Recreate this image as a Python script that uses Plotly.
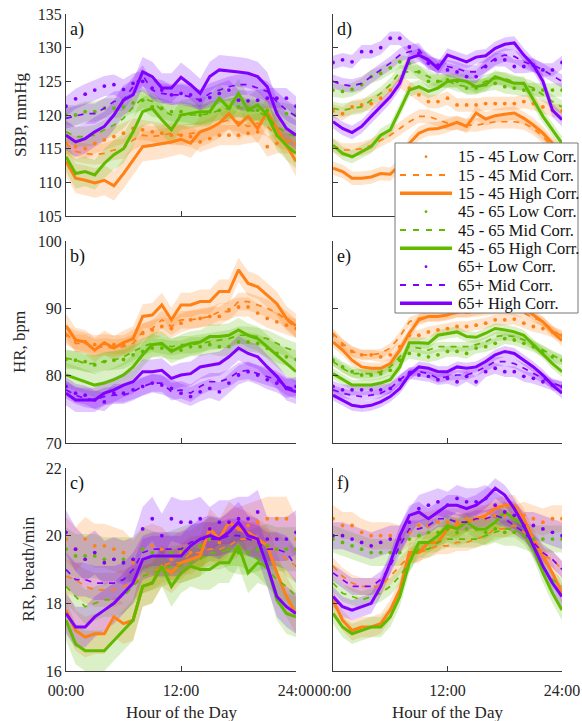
import plotly.graph_objects as go

# ---------------- data ----------------
hours = list(range(25))
age_groups = ["15 - 45", "45 - 65", "65+"]
corr_levels = ["Low", "Mid", "High"]
y_titles = ["SBP, mmHg", "HR, bpm", "RR, breath/min"]
x_title = "Hour of the Day"
x_tickvals = [0, 12, 24]
x_ticktext = ["00:00", "12:00", "24:00"]
y_ranges = [[105, 135], [70, 100], [16, 22]]
y_tickvals = [[105, 110, 115, 120, 125, 130, 135], [70, 80, 90, 100], [16, 18, 20, 22]]

# Panel a (SBP, left)
a_o_low = [115.8,115.3,115.0,115.8,116.3,116.8,117.3,118.0,117.8,117.5,117.3,117.0,117.0,116.8,116.0,116.5,117.0,117.0,117.0,117.3,117.5,115.3,115.8,115.8,115.8]
a_o_mid = [115.8,114.6,114.3,114.1,114.3,114.8,115.0,116.3,117.0,116.8,117.0,117.3,117.0,117.3,117.5,118.0,118.8,119.3,119.0,118.3,118.8,118.3,116.8,116.3,115.8]
a_o_high = [113.1,110.6,110.3,109.9,110.3,109.5,111.3,113.3,115.3,115.5,115.7,116.0,116.4,115.8,117.5,118.0,118.8,120.2,118.5,119.8,118.0,120.5,118.0,115.5,113.1]
a_g_low = [120.0,120.0,120.5,120.5,121.0,121.0,121.2,121.8,122.2,121.2,121.0,120.5,120.5,120.2,120.0,120.5,120.7,121.0,121.2,121.0,120.7,120.7,120.5,120.2,120.0]
a_g_mid = [117.5,116.8,116.8,117.0,117.8,118.5,119.5,121.2,122.5,122.0,120.7,120.0,120.0,120.0,120.0,120.2,120.7,121.0,121.2,120.7,120.5,119.8,118.3,117.3,116.8]
a_g_high = [113.8,111.3,111.6,111.1,112.8,114.1,115.0,117.5,120.5,121.0,119.3,117.8,120.0,120.2,120.5,120.5,122.5,121.0,123.2,120.7,121.5,120.0,117.0,115.5,114.3]
a_p_low = [121.3,122.4,123.1,123.7,124.3,124.5,123.8,124.7,125.0,124.0,123.7,123.0,123.2,123.0,122.2,122.6,123.2,123.7,122.2,122.1,122.2,122.5,122.5,122.5,121.3]
a_p_mid = [119.5,119.8,120.2,120.2,121.0,122.0,122.2,124.2,125.9,123.7,123.2,123.0,123.0,122.7,122.2,123.2,123.7,124.2,124.5,124.5,124.0,123.5,122.0,120.7,119.8]
a_p_high = [117.0,116.0,116.5,117.5,118.3,120.0,122.2,123.0,126.4,125.7,124.0,124.0,125.6,124.5,123.2,125.7,126.7,126.6,126.4,126.2,125.7,124.2,120.2,118.0,117.0]

# Panel d (SBP, right)
d_o_low = [120.6,120.2,121.2,121.5,121.7,122.5,123.7,125.0,124.0,123.0,122.0,122.0,122.5,121.5,121.5,121.5,121.7,121.7,121.7,121.7,122.0,121.7,121.2,120.7,120.6]
d_o_mid = [115.5,114.8,114.8,115.0,115.5,116.3,117.0,118.0,119.0,119.8,119.8,119.3,118.8,118.8,118.5,118.5,118.8,119.0,119.0,119.0,118.8,118.0,116.8,115.3,114.5]
d_o_high = [112.1,111.6,110.6,110.6,110.8,111.3,111.2,112.6,115.8,117.3,117.9,118.0,118.4,118.9,118.3,120.3,119.4,119.9,120.1,120.3,119.5,118.5,117.3,115.8,114.3]
d_g_low = [123.7,123.5,123.8,124.5,125.7,126.2,127.0,127.9,127.7,126.4,125.0,125.0,125.2,125.0,124.0,124.0,124.5,124.7,124.2,124.0,123.7,123.8,123.7,123.7,123.7]
d_g_mid = [121.0,120.7,121.0,121.2,122.2,123.2,124.5,126.4,126.4,126.4,125.7,125.0,125.0,124.5,124.2,124.2,125.0,125.4,125.4,125.0,124.5,124.0,123.0,122.0,121.2]
d_g_high = [115.5,114.3,113.8,114.6,115.3,117.0,117.8,120.7,123.7,124.2,123.5,124.0,125.0,125.2,125.0,124.2,124.5,125.7,125.2,124.7,124.7,122.2,119.8,117.8,115.8]
d_p_low = [127.8,128.2,127.9,129.4,129.4,130.0,131.4,131.4,130.1,129.2,127.7,127.4,126.7,126.4,125.7,125.7,127.2,128.2,128.2,127.2,127.2,127.4,126.7,126.7,127.8]
d_p_mid = [125.0,124.5,124.3,124.7,125.7,126.7,127.7,128.9,129.4,129.7,127.9,127.2,127.2,126.9,126.4,126.4,127.4,128.4,128.9,128.7,127.9,127.4,126.7,125.9,125.0]
d_p_high = [119.0,118.0,117.4,118.3,119.8,121.2,122.7,124.7,128.4,128.9,128.2,126.9,128.9,128.4,127.9,128.6,128.8,129.9,130.5,130.7,128.9,127.4,125.0,120.7,119.3]

# Panel b (HR, left)
b_o_low = [86.0,85.3,85.0,84.6,84.8,84.6,84.6,85.5,86.3,86.8,87.3,87.0,87.8,88.3,88.5,88.8,88.8,89.8,90.2,90.2,89.3,88.5,88.0,87.5,87.0]
b_o_mid = [86.3,84.8,84.8,84.1,84.3,84.1,84.3,84.8,86.5,87.0,88.3,87.3,88.3,88.3,88.5,88.8,89.5,89.5,91.0,91.0,90.5,90.0,89.3,88.3,87.0]
b_o_high = [87.4,85.3,85.0,83.8,84.9,84.1,84.9,85.5,88.8,89.0,90.5,88.3,90.5,90.5,91.0,91.0,92.5,92.5,95.7,93.7,93.2,92.0,90.7,88.5,87.4]
b_g_low = [82.4,82.3,82.1,81.6,82.1,82.3,82.4,83.1,83.6,84.1,84.1,83.8,83.8,84.3,84.3,84.6,84.3,84.3,85.0,85.0,84.8,84.1,83.3,82.8,82.4]
b_g_mid = [82.6,82.3,81.8,81.8,82.1,82.3,82.8,83.6,84.3,84.8,84.6,84.3,84.6,84.6,84.8,85.0,85.3,85.5,86.0,86.0,85.8,85.5,84.8,84.1,83.6]
b_g_high = [80.1,79.6,79.1,78.6,78.9,79.4,80.1,81.3,83.1,84.6,84.8,83.6,84.3,84.8,85.0,85.8,85.8,86.0,86.8,86.0,85.5,84.3,83.1,81.8,80.6]
b_p_low = [78.4,77.4,77.1,76.4,76.1,77.4,77.4,77.9,78.4,78.9,78.6,78.1,77.4,76.9,77.6,78.1,77.6,78.9,80.1,80.6,80.1,79.4,78.9,78.1,78.4]
b_p_mid = [77.9,77.1,76.6,76.4,76.9,77.1,77.1,77.6,78.4,78.9,78.9,77.6,77.9,77.4,78.4,79.1,79.1,79.6,80.6,80.8,80.3,79.9,79.4,78.4,77.9]
b_p_high = [77.4,76.4,76.4,76.4,77.4,77.9,78.6,79.1,80.6,80.6,80.8,79.6,80.1,80.3,81.3,81.6,81.8,82.8,84.1,83.3,82.8,81.3,79.9,78.1,77.6]

# Panel e (HR, right)
e_o_low = [86.0,84.6,83.6,83.1,83.1,82.8,83.1,84.3,86.0,86.0,86.5,86.8,87.0,87.3,87.3,87.5,87.8,88.3,88.3,88.4,87.8,87.3,87.0,86.5,86.0]
e_o_mid = [86.3,84.8,83.6,83.1,83.1,83.3,84.1,85.8,88.0,88.5,88.8,88.8,89.0,89.3,89.3,89.5,89.6,89.8,89.8,89.6,89.3,88.6,88.0,86.8,85.8]
e_o_high = [85.0,83.8,82.3,81.3,81.1,81.1,81.8,83.8,86.3,88.3,88.8,88.8,89.0,89.5,89.5,89.8,90.0,90.3,90.5,90.3,90.0,89.0,88.0,86.5,85.2]
e_g_low = [82.3,81.3,80.6,80.1,80.1,80.3,80.8,82.3,83.3,83.1,82.8,83.1,83.6,83.6,83.3,84.1,84.3,84.8,85.5,85.3,84.8,84.3,83.6,82.8,82.3]
e_g_mid = [82.1,81.1,80.3,80.3,80.3,80.6,81.3,82.8,84.3,84.1,83.8,84.3,84.3,84.3,84.3,84.6,85.0,85.8,86.0,85.8,85.3,84.6,83.8,83.1,82.3]
e_g_high = [80.3,79.4,78.6,78.6,78.6,78.9,79.4,81.3,84.9,84.9,84.8,86.0,86.3,86.5,85.8,85.7,86.3,87.0,86.8,86.5,86.0,84.6,83.3,81.8,80.6]
e_p_low = [78.4,77.9,77.9,77.9,77.9,77.9,78.1,79.4,80.3,80.1,79.9,79.4,79.6,79.1,79.9,79.1,80.6,81.1,80.6,80.6,79.9,79.6,79.1,78.6,78.4]
e_p_mid = [77.9,77.4,77.1,76.9,77.1,77.4,78.1,79.4,80.6,80.6,80.3,79.6,79.9,80.1,80.1,80.6,81.3,82.1,82.1,81.8,81.1,80.3,79.6,78.9,78.4]
e_p_high = [77.1,76.4,75.6,75.4,75.6,76.1,76.9,78.1,80.1,81.3,81.1,80.6,80.6,81.3,81.1,81.3,82.1,83.1,83.6,83.3,82.3,81.3,80.1,78.6,77.4]

# Panel c (RR, left)
c_o_low = [19.9,19.6,19.9,19.7,19.7,19.6,19.5,19.2,19.6,19.7,19.6,19.3,19.5,19.5,19.7,19.9,19.8,20.1,20.2,20.3,20.4,20.5,20.5,20.5,19.9]
c_o_mid = [18.8,18.7,18.5,18.4,18.4,18.4,18.5,18.6,18.8,18.9,19.1,19.2,19.2,19.5,19.5,19.6,19.6,19.7,19.9,19.9,19.9,19.7,19.6,19.3,19.1]
c_o_high = [17.8,17.2,17.0,17.1,17.1,17.6,17.4,17.5,18.5,18.6,19.1,18.9,19.2,19.3,19.4,20.2,19.9,20.4,20.2,20.1,19.9,19.7,18.9,18.2,17.7]
c_g_low = [19.6,19.4,19.4,19.4,19.3,19.3,19.3,19.3,19.6,19.5,19.4,19.5,19.6,19.7,19.7,19.9,19.9,19.6,19.5,19.5,19.6,19.7,19.6,19.6,19.6]
c_g_mid = [18.5,18.2,17.9,18.0,18.1,18.1,18.2,18.5,18.8,18.9,19.0,19.1,19.1,19.2,19.3,19.5,19.5,19.6,19.6,19.5,19.3,19.0,18.7,18.5,18.2]
c_g_high = [17.5,16.8,16.6,16.6,16.6,16.9,17.2,17.5,18.5,18.6,19.1,18.5,18.9,19.1,19.0,19.0,19.2,19.2,19.7,18.9,19.2,19.1,18.1,17.7,17.6]
c_p_low = [20.1,19.6,19.3,19.5,19.2,19.3,19.2,19.3,20.2,20.5,20.0,20.5,20.4,20.4,20.5,20.2,20.4,20.4,20.5,20.5,20.7,19.9,19.9,19.9,20.1]
c_p_mid = [19.0,18.7,18.7,18.6,18.6,18.6,18.7,19.0,19.5,19.6,19.6,19.6,19.6,19.8,19.9,19.9,19.9,20.0,20.0,19.9,19.8,19.6,19.6,19.5,19.1]
c_p_high = [17.7,17.3,17.3,17.6,17.8,18.0,18.3,18.6,19.3,19.4,19.4,19.4,19.4,19.7,19.9,20.0,19.9,20.1,20.4,20.0,19.9,19.1,18.2,17.9,17.7]

# Panel f (RR, right)
f_o_low = [20.5,20.3,20.3,20.1,20.0,20.0,20.0,19.9,20.1,20.3,20.3,20.4,20.4,20.4,20.5,20.5,20.5,20.6,20.6,20.5,20.6,20.5,20.4,20.5,20.5]
f_o_mid = [19.1,18.8,18.6,18.5,18.5,18.5,18.8,19.1,19.4,19.5,19.6,19.7,19.7,19.8,19.8,19.9,20.0,20.2,20.2,20.3,20.1,19.8,19.4,19.3,19.0]
f_o_high = [18.1,17.5,17.2,17.3,17.3,17.4,17.8,18.4,19.5,19.5,19.8,19.8,20.2,20.3,20.4,20.5,20.6,20.8,20.9,20.9,20.5,19.9,19.4,18.9,18.3]
f_g_low = [19.9,19.8,19.7,19.6,19.5,19.5,19.5,19.5,19.9,20.0,20.1,20.1,20.2,20.1,20.2,20.2,20.1,20.2,20.1,20.1,20.0,19.9,19.9,19.9,19.9]
f_g_mid = [18.6,18.3,18.2,18.1,18.2,18.3,18.5,18.8,19.2,19.6,19.6,19.8,19.9,19.9,19.9,19.9,20.0,20.1,20.2,20.2,20.0,19.6,19.1,18.7,18.5]
f_g_high = [17.7,17.3,17.1,17.2,17.3,17.3,17.6,18.2,19.2,19.8,19.8,20.0,20.3,20.2,20.4,20.2,20.2,20.4,20.7,20.5,20.3,19.6,18.9,18.3,17.8]
f_p_low = [20.0,20.0,19.9,19.8,19.7,19.8,19.9,19.9,20.4,20.8,20.9,21.0,20.9,21.1,21.0,21.0,21.1,20.9,20.7,20.6,20.3,20.3,20.2,20.1,20.0]
f_p_mid = [18.9,18.7,18.5,18.5,18.5,18.7,19.1,19.7,20.2,20.2,20.3,20.5,20.5,20.4,20.4,20.5,20.5,20.6,20.5,20.3,20.1,19.8,19.5,19.3,19.0]
f_p_high = [18.2,17.9,17.8,17.9,18.0,18.5,19.2,20.0,20.6,20.7,20.5,20.7,20.9,20.9,20.8,20.9,21.1,21.4,21.2,20.8,20.3,19.7,19.1,18.6,18.2]

# band half-widths (low, mid, high) per panel
band_a = [1.5, 1.5, 2.2]
band_b = [1.4, 1.3, 1.8]
band_c = [0.65, 0.5, 0.6]
band_d = [1.0, 1.0, 1.0]
band_e = [0.8, 0.7, 0.8]
band_f = [0.4, 0.25, 0.3]

panels = [
    (1, 1, "a)", [[a_o_low, a_o_mid, a_o_high], [a_g_low, a_g_mid, a_g_high], [a_p_low, a_p_mid, a_p_high]], band_a),
    (2, 1, "b)", [[b_o_low, b_o_mid, b_o_high], [b_g_low, b_g_mid, b_g_high], [b_p_low, b_p_mid, b_p_high]], band_b),
    (3, 1, "c)", [[c_o_low, c_o_mid, c_o_high], [c_g_low, c_g_mid, c_g_high], [c_p_low, c_p_mid, c_p_high]], band_c),
    (1, 2, "d)", [[d_o_low, d_o_mid, d_o_high], [d_g_low, d_g_mid, d_g_high], [d_p_low, d_p_mid, d_p_high]], band_d),
    (2, 2, "e)", [[e_o_low, e_o_mid, e_o_high], [e_g_low, e_g_mid, e_g_high], [e_p_low, e_p_mid, e_p_high]], band_e),
    (3, 2, "f)", [[f_o_low, f_o_mid, f_o_high], [f_g_low, f_g_mid, f_g_high], [f_p_low, f_p_mid, f_p_high]], band_f),
]

# ---------------- styles ----------------
W, H = 582, 721
colors = [(255, 128, 20), (97, 186, 0), (128, 0, 255)]
band_alpha = 0.22
FONT = "Liberation Serif"
AXC = "#3a3a3a"
TXT = "#262626"

x_dom = {1: [66 / W, 296 / W], 2: [333 / W, 562 / W]}
y_pix = {1: (14, 216), 2: (241, 443), 3: (468, 671)}
y_dom = {r: [1 - b / H, 1 - t / H] for r, (t, b) in y_pix.items()}

def px(x):
    return x / W

def py(y):
    return 1 - y / H

fig = go.Figure()

for row, col, letter, series, bands in panels:
    idx = (row - 1) * 2 + col
    xa = "x" if idx == 1 else f"x{idx}"
    ya = "y" if idx == 1 else f"y{idx}"
    for g, group in enumerate(series):
        r_, g_, b_ = colors[g]
        for c, vals in enumerate(group):
            hw = bands[c]
            upper = [v + hw for v in vals]
            lower = [v - hw for v in vals]
            fig.add_trace(go.Scatter(
                x=hours + hours[::-1], y=upper + lower[::-1],
                fill="toself", fillcolor=f"rgba({r_},{g_},{b_},{band_alpha})",
                line=dict(width=0), mode="lines", hoverinfo="skip",
                showlegend=False, xaxis=xa, yaxis=ya))
    for g, group in enumerate(series):
        r_, g_, b_ = colors[g]
        col_s = f"rgb({r_},{g_},{b_})"
        for c, vals in enumerate(group):
            name = f"{age_groups[g]} {corr_levels[c]} Corr."
            if c == 0:
                tr = go.Scatter(x=hours, y=vals, mode="markers",
                                marker=dict(color=col_s, size=3.8),
                                name=name, showlegend=False, xaxis=xa, yaxis=ya)
            elif c == 1:
                tr = go.Scatter(x=hours, y=vals, mode="lines",
                                line=dict(color=col_s, width=1.7, dash="6px,6px"),
                                name=name, showlegend=False, xaxis=xa, yaxis=ya)
            else:
                tr = go.Scatter(x=hours, y=vals, mode="lines",
                                line=dict(color=col_s, width=3),
                                name=name, showlegend=False, xaxis=xa, yaxis=ya)
            fig.add_trace(tr)

    ax_common = dict(showgrid=False, zeroline=False, showline=True, linecolor=AXC,
                     linewidth=1, ticks="inside", ticklen=5, tickcolor=AXC,
                     automargin=False,
                     tickfont=dict(family=FONT, size=16, color=TXT))
    xkey = "xaxis" if idx == 1 else f"xaxis{idx}"
    ykey = "yaxis" if idx == 1 else f"yaxis{idx}"
    xcfg = dict(ax_common, domain=x_dom[col], range=[0, 24], anchor=ya,
                tickvals=x_tickvals, ticktext=x_ticktext,
                showticklabels=(row == 3), ticklabelstandoff=5)
    ycfg = dict(ax_common, domain=y_dom[row], range=y_ranges[row - 1], anchor=xa,
                tickvals=y_tickvals[row - 1], showticklabels=(col == 1))
    fig.update_layout({xkey: xcfg, ykey: ycfg})
    fig.add_annotation(text=letter, xref=f"{xa} domain", yref=f"{ya} domain",
                       x=0.01, y=0.985, xanchor="left", yanchor="top", showarrow=False,
                       font=dict(family=FONT, size=18, color="#111"))

# axis titles as annotations (exact placement)
ytitle_x = [20, 19, 28]
for r in range(3):
    t, b = y_pix[r + 1]
    fig.add_annotation(text=y_titles[r], xref="paper", yref="paper",
                       x=px(ytitle_x[r]), y=py((t + b) / 2), textangle=-90,
                       showarrow=False, xanchor="center", yanchor="middle",
                       font=dict(family=FONT, size=17, color=TXT))
for c in (1, 2):
    x0, x1 = x_dom[c]
    fig.add_annotation(text=x_title, xref="paper", yref="paper",
                       x=(x0 + x1) / 2, y=py(712), showarrow=False,
                       xanchor="center", yanchor="middle",
                       font=dict(family=FONT, size=17, color=TXT))

# ---------------- legend (drawn box, styled like the original) ----------------
leg_left, leg_top, leg_right, leg_bottom = 395, 143, 578, 313
row0, row_step = 156.7, 18.33
shapes = [dict(type="rect", xref="paper", yref="paper", layer="above",
               x0=px(leg_left), x1=px(leg_right), y0=py(leg_bottom), y1=py(leg_top),
               fillcolor="white", line=dict(color="#777", width=1))]
k = 0
for g in range(3):
    r_, g_, b_ = colors[g]
    col_s = f"rgb({r_},{g_},{b_})"
    for c in range(3):
        yy = py(row0 + k * row_step)
        if c == 0:
            shapes.append(dict(type="circle", xref="paper", yref="paper", layer="above",
                               x0=px(424.6), x1=px(427.4), y0=yy - 1.4 / H, y1=yy + 1.4 / H,
                               fillcolor=col_s, line=dict(width=0)))
        elif c == 1:
            shapes.append(dict(type="line", xref="paper", yref="paper", layer="above",
                               x0=px(400), x1=px(452), y0=yy, y1=yy,
                               line=dict(color=col_s, width=2, dash="6px,7px")))
        else:
            shapes.append(dict(type="line", xref="paper", yref="paper", layer="above",
                               x0=px(400), x1=px(452), y0=yy, y1=yy,
                               line=dict(color=col_s, width=3.5)))
        fig.add_annotation(text=f"{age_groups[g]} {corr_levels[c]} Corr.",
                           xref="paper", yref="paper", x=px(456), y=yy,
                           xanchor="left", yanchor="middle", showarrow=False,
                           font=dict(family=FONT, size=16.5, color="#111"))
        k += 1

fig.update_layout(
    width=W, height=H, margin=dict(l=0, r=0, t=0, b=0),
    plot_bgcolor="white", paper_bgcolor="white",
    font=dict(family=FONT, size=16, color=TXT),
    showlegend=False, shapes=shapes,
)

fig.write_html("out.html", config={"displayModeBar": False},
               post_script="document.body.style.margin='0';document.body.style.overflow='hidden';")
